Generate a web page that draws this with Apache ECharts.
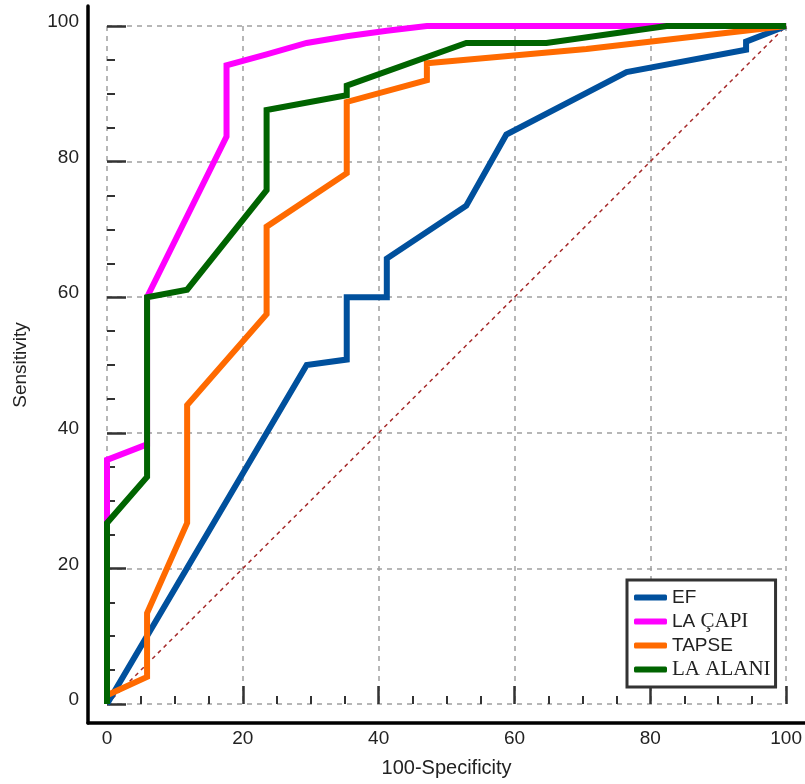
<!DOCTYPE html>
<html>
<head>
<meta charset="utf-8">
<script src="https://cdn.jsdelivr.net/npm/echarts@6/dist/echarts.min.js"></script>
<style>html,body{margin:0;padding:0;background:#fff;}#c{width:805px;height:784px;}</style>
</head>
<body>
<div id="c"></div>
<script>
// ROC curves: [100-Specificity, Sensitivity]
const seriesNames = ['EF', 'LA ÇAPI', 'TAPSE', 'LA ALANI'];
const efData = [[0,0],[29.4,50],[35.3,50.8],[35.3,60],[41.2,60],[41.2,65.7],[52.9,73.5],[58.8,84],[76.5,93.2],[94.1,96.5],[94.1,97.7],[100,100]];
const laCapiData = [[0,0],[0,36],[5.9,38.3],[5.9,60],[17.6,83.7],[17.6,94.2],[23.5,95.8],[29.4,97.5],[35.3,98.5],[41.2,99.3],[47.1,100],[100,100]];
const tapseData = [[0,0],[0,1.3],[5.9,4],[5.9,13.4],[11.8,26.7],[11.8,44.1],[23.5,57.5],[23.5,70.4],[35.3,78.3],[35.3,88.8],[47.1,92],[47.1,94.5],[70.6,96.6],[100,100]];
const laAlaniData = [[0,0],[0,26.7],[5.9,33.5],[5.9,60],[11.8,61.1],[23.5,75.8],[23.5,87.6],[35.3,89.8],[35.3,91.2],[52.9,97.5],[64.7,97.5],[82.4,100],[100,100]];
const diagonalData = [[0,0],[100,100]];
const colors = ['#00509d', '#ff00ff', '#ff6a00', '#006400'];

const chart = echarts.init(document.getElementById('c'), null, {renderer: 'canvas'});
const labelFont = {fontFamily: 'Liberation Sans', fontSize: 19, color: '#222'};
const mk = (name, data, i) => ({
  name, type: 'line', data, xAxisIndex: 0, yAxisIndex: 0,
  showSymbol: false, symbol: 'none', silent: true, animation: false,
  lineStyle: {color: colors[i], width: 6, join: 'miter'},
  itemStyle: {color: colors[i]}, z: 3 + i
});
chart.setOption({
  animation: false,
  backgroundColor: '#fff',
  grid: [
    {left: 107, right: 18, top: 26, bottom: 80, containLabel: false},
    {left: 88, right: 0, top: 6, bottom: 61, containLabel: false}
  ],
  legend: {
    data: seriesNames,
    orient: 'vertical', left: 627, top: 580,
    padding: [7, 5, 7, 7], itemGap: 3, itemWidth: 33, itemHeight: 6,
    icon: 'roundRect',
    backgroundColor: '#fff', borderColor: '#333', borderWidth: 3, borderRadius: 0,
    selectedMode: false,
    formatter: n => n === 'LA ALANI' ? '{s|LA ALANI}' : (n === 'LA ÇAPI' ? '{n|LA }{s|ÇAPI}' : '{n|' + n + '}'),
    textStyle: {
      color: '#222', fontSize: 19, lineHeight: 21,
      rich: {
        n: {fontFamily: 'Liberation Sans', fontSize: 19, color: '#222', lineHeight: 21},
        s: {fontFamily: 'Liberation Serif', fontSize: 21, color: '#222', lineHeight: 21}
      }
    }
  },
  xAxis: [
    {
      type: 'value', gridIndex: 0, min: 0, max: 100, interval: 20, offset: 19,
      name: '100-Specificity', nameLocation: 'middle', nameGap: 35,
      nameTextStyle: {fontFamily: 'Liberation Sans', fontSize: 20, color: '#222'},
      axisLine: {show: false},
      axisTick: {show: true, inside: true, length: 18, lineStyle: {color: '#333', width: 2.5}},
      minorTick: {show: true, splitNumber: 4, length: 8, lineStyle: {color: '#333', width: 2}},
      axisLabel: Object.assign({margin: 6}, labelFont),
      splitLine: {show: true, lineStyle: {color: '#a0a0a0', width: 1.5, type: [5, 5]}}
    },
    {
      type: 'value', gridIndex: 1, min: 0, max: 1, position: 'bottom',
      axisLine: {show: true, onZero: false, lineStyle: {color: '#000', width: 3.5}},
      axisTick: {show: false}, axisLabel: {show: false}, splitLine: {show: false}
    }
  ],
  yAxis: [
    {
      type: 'value', gridIndex: 0, min: 0, max: 100, interval: 20, offset: 19,
      name: 'Sensitivity', nameLocation: 'middle', nameGap: 58, nameRotate: 90,
      nameTextStyle: {fontFamily: 'Liberation Sans', fontSize: 19, color: '#222'},
      axisLine: {show: false},
      axisTick: {show: true, inside: true, length: 19, lineStyle: {color: '#333', width: 2.5}},
      minorTick: {show: true, splitNumber: 4, length: 8, lineStyle: {color: '#333', width: 2}},
      axisLabel: Object.assign({margin: 9, verticalAlign: 'bottom', lineHeight: 8}, labelFont),
      splitLine: {show: true, lineStyle: {color: '#a0a0a0', width: 1.5, type: [5, 5]}}
    },
    {
      type: 'value', gridIndex: 1, min: 0, max: 1, position: 'left',
      axisLine: {show: true, onZero: false, lineStyle: {color: '#000', width: 3.5}},
      axisTick: {show: false}, axisLabel: {show: false}, splitLine: {show: false}
    }
  ],
  series: [
    {
      name: 'diag', type: 'line', data: diagonalData, showSymbol: false, symbol: 'none',
      silent: true, z: 2,
      lineStyle: {color: '#a52a2a', width: 1.5, type: [4, 4]}
    },
    mk(seriesNames[0], efData, 0),
    mk(seriesNames[1], laCapiData, 1),
    mk(seriesNames[2], tapseData, 2),
    mk(seriesNames[3], laAlaniData, 3)
  ]
});
</script>
</body>
</html>
